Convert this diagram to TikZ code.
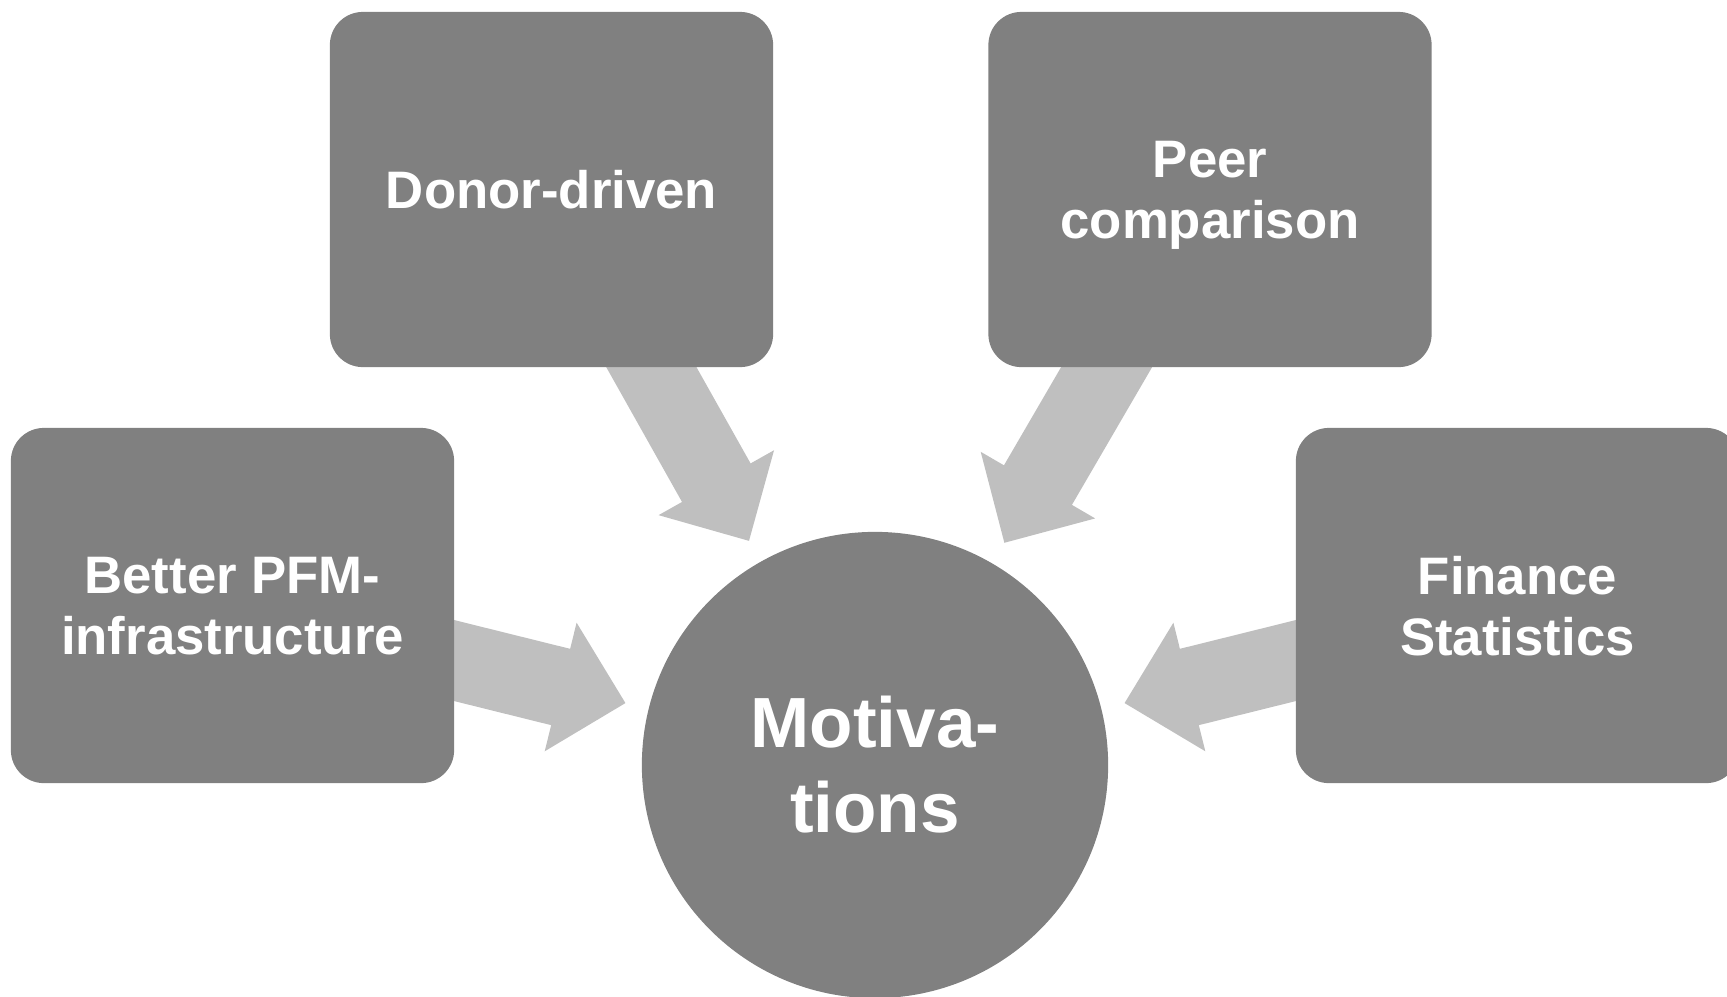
\documentclass[tikz,border=0pt]{standalone}
\usepackage{fontspec}
\setmainfont{Liberation Sans}
\usetikzlibrary{calc}
\pgfdeclarelayer{background}
\pgfsetlayers{background,main}
\definecolor{boxgray}{RGB}{128,128,128}
\definecolor{arrowgray}{RGB}{191,191,191}

% Block arrow from the centre of node #1 towards node #2,
% stopping a little short of the hub's rim.
\newcommand\convarrow[2]{%
  \coordinate (tip) at ($(#2.center)!2.57cm!(#1.center)$);
  \coordinate (base) at ($(tip)!0.667cm!(#1.center)$);
  \fill[feeder]
    ($(#1.center)!0.393cm!90:(tip)$) --
    ($(base)!0.393cm!90:(tip)$) --
    ($(base)!0.662cm!90:(tip)$) --
    (tip) --
    ($(base)!0.662cm!-90:(tip)$) --
    ($(base)!0.393cm!-90:(tip)$) --
    ($(#1.center)!0.393cm!-90:(tip)$) -- cycle;
}

\begin{document}
\begin{tikzpicture}[x=0.01cm,y=-0.01cm,
  card/.style={fill=boxgray, rounded corners=0.33cm,
    minimum width=4.43cm, minimum height=3.55cm, inner sep=0pt,
    text depth=0pt,
    text=white, align=center, font=\bfseries\fontsize{15}{17.3}\selectfont},
  hub/.style={circle, fill=boxgray, minimum size=4.66cm, inner sep=0pt,
    text=white, align=center, font=\bfseries\fontsize{20.2}{24.2}\selectfont},
  feeder/.style={fill=arrowgray}]
  \useasboundingbox (0,0) rectangle (1727,996);
  \clip (0,0) rectangle (1727,996);

  % centre circle
  \node[hub] (mot) at (875,765) {Motiva-\\tions};

  % surrounding boxes
  \node[card] (donor)   at (551.5,189.5)  {Donor-driven};
  \node[card] (peer)    at (1210,189.5)   {Peer\\comparison};
  \node[card] (pfm)     at (232.5,605.5)  {Better PFM-\\infrastructure};
  \node[card] (finance) at (1517.5,605.5) {Finance\\Statistics};

  % arrows run behind the boxes
  \begin{pgfonlayer}{background}
    \convarrow{donor}{mot}
    \convarrow{peer}{mot}
    \convarrow{pfm}{mot}
    \convarrow{finance}{mot}
  \end{pgfonlayer}
\end{tikzpicture}
\end{document}
